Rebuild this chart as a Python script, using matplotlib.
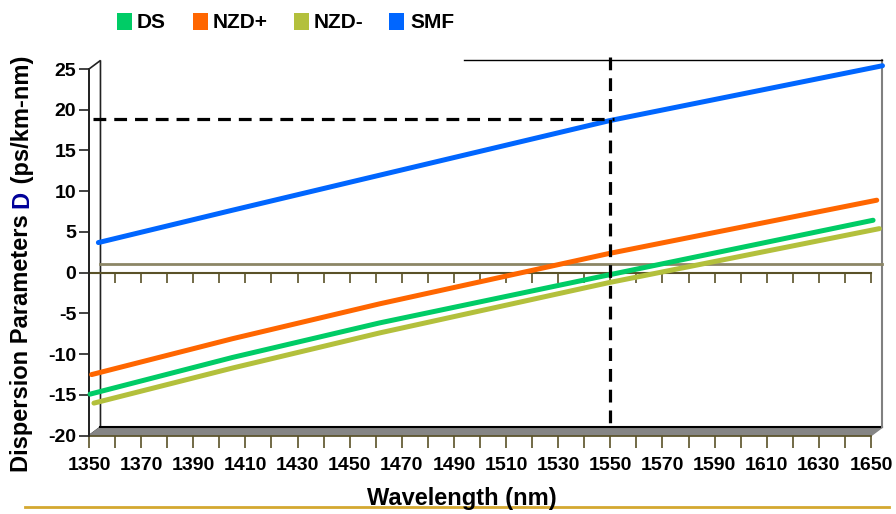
import matplotlib.pyplot as plt
from matplotlib.patches import Polygon, Rectangle
from matplotlib.lines import Line2D
import numpy as np

plt.rcParams['font.family'] = ['Liberation Sans', 'DejaVu Sans']
plt.rcParams['font.weight'] = 'bold'
plt.rcParams['axes.unicode_minus'] = False

# series (D in ps/km-nm)
series = ['DS', 'NZD+', 'NZD-', 'SMF']
colors = ['#00CC66', '#FF6600', '#B3C03C', '#0066FF']

wl_ds = [1350.4, 1405.0, 1461.6, 1549.2, 1650.8]
d_ds = [-14.9, -10.4, -6.15, -0.28, 6.44]

wl_nzdp = [1351.0, 1405.0, 1461.6, 1549.2, 1652.2]
d_nzdp = [-12.5, -8.1, -3.81, 2.34, 8.9]

wl_nzdm = [1351.9, 1405.0, 1461.6, 1549.2, 1653.2]
d_nzdm = [-16.0, -11.7, -7.38, -1.23, 5.41]

wl_smf = [1353.6, 1404.1, 1452.7, 1549.5, 1654.4]
d_smf = [3.7, 7.6, 11.3, 18.65, 25.4]

# dashed guide at the 1550 nm window
guide_wl = 1550
guide_d = 18.9

xticks = np.arange(1350, 1651, 20)
yticks = np.arange(-20, 26, 5)

W, H = 896, 514
fig = plt.figure(figsize=(W / 100, H / 100), dpi=100)
ax = fig.add_axes([89 / W, 1 - 435.7 / H, 782 / W, 366.7 / H])
ax.set_xlim(1350, 1650)
ax.set_ylim(-20, 25)

# 3d depth offset (back wall vs front edge)
dx, dy = 4.4, 1.05
olive = '#5a5228'

# left wall
ax.add_patch(Polygon([(1350, -20), (1350, 25), (1350 + dx, 25 + dy), (1350 + dx, -20 + dy)],
                     closed=True, facecolor='white', edgecolor='#222222', lw=1.2, clip_on=False, zorder=1))
# floor
ax.add_patch(Polygon([(1350, -20), (1650, -20), (1650 + dx, -20 + dy), (1350 + dx, -20 + dy)],
                     closed=True, facecolor='#858585', edgecolor='#858585', lw=1, clip_on=False, zorder=1))
ax.plot([1350 + dx, 1650 + dx], [-20 + dy, -20 + dy], color='black', lw=1.5, clip_on=False, zorder=2)
# back wall right edge and (partial) top edge
ax.plot([1650 + dx, 1650 + dx], [-20 + dy, 25 + dy], color='#808080', lw=1.5, clip_on=False, zorder=2)
ax.plot([1494, 1650 + dx], [25 + dy, 25 + dy], color='black', lw=1, clip_on=False, zorder=2)

# zero lines with ticks
ax.plot([1350 + dx, 1650 + dx], [dy, dy], color='#8c8666', lw=2, clip_on=False, zorder=2)
ax.plot([1350, 1650], [0, 0], color=olive, lw=1.5, clip_on=False, zorder=2)
ax.vlines(np.arange(1360, 1651, 10), -1.25, 0, color=olive, lw=1.2, clip_on=False, zorder=2)

# data lines
for wl, d, c in zip([wl_ds, wl_nzdp, wl_nzdm, wl_smf], [d_ds, d_nzdp, d_nzdm, d_smf], colors):
    ax.plot(wl, d, color=c, lw=3.6, solid_capstyle='round', solid_joinstyle='round',
            clip_on=False, zorder=4)

# dashed guides
ax.plot([guide_wl, guide_wl], [26.5, -20 + dy], color='black', lw=2.3, dashes=(4, 2.5),
        clip_on=False, zorder=5)
ax.plot([1351.5, guide_wl + 1.5], [guide_d, guide_d], color='black', lw=2.3, dashes=(4, 2.5),
        clip_on=False, zorder=5)

# axes
for s in ['top', 'right']:
    ax.spines[s].set_visible(False)
ax.spines['left'].set_color('#222222')
ax.spines['left'].set_linewidth(1.3)
ax.spines['left'].set_zorder(3)
ax.spines['bottom'].set_color(olive)
ax.spines['bottom'].set_linewidth(1.2)

ax.set_xticks(xticks)
ax.set_xticks(np.arange(1360, 1651, 20), minor=True)
ax.set_yticks(yticks)
ax.tick_params(axis='x', which='both', length=8.6, width=1.2, color=olive, direction='out', pad=7,
               labelsize=14)
ax.tick_params(axis='y', length=7.2, width=1.2, color='#222222', direction='out', pad=2,
               labelsize=14)
ax.patch.set_visible(False)

# axis titles
fig.text(462 / W, 1 - 498 / H, 'Wavelength (nm)', ha='center', va='center', fontsize=17)
t1 = fig.text(22 / W, 1 - 472 / H, 'Dispersion Parameters ', rotation=90, ha='center', va='bottom',
              fontsize=17)
t2 = ax.annotate('D', xy=(0.5, 1), xycoords=t1, ha='center', va='bottom', rotation=90,
                 fontsize=17, color='#000099')
ax.annotate(' (ps/km-nm)', xy=(0.5, 1), xycoords=t2, ha='center', va='bottom', rotation=90,
            fontsize=17)

# legend on top
for name, c, sx, tx in zip(series, colors, [117, 193, 294, 389], [137, 213, 314, 410]):
    fig.add_artist(Rectangle((sx / W, 1 - 29.5 / H), 15 / W, 16.5 / H, transform=fig.transFigure,
                             facecolor=c, edgecolor='none'))
    fig.text(tx / W, 1 - 22.5 / H, name, ha='left', va='center', fontsize=15)

# gold rule under the chart
fig.add_artist(Line2D([25 / W, 889 / W], [1 - 507.3 / H] * 2, color='#D4A830', lw=2))

fig.savefig('out.png', dpi=100)
